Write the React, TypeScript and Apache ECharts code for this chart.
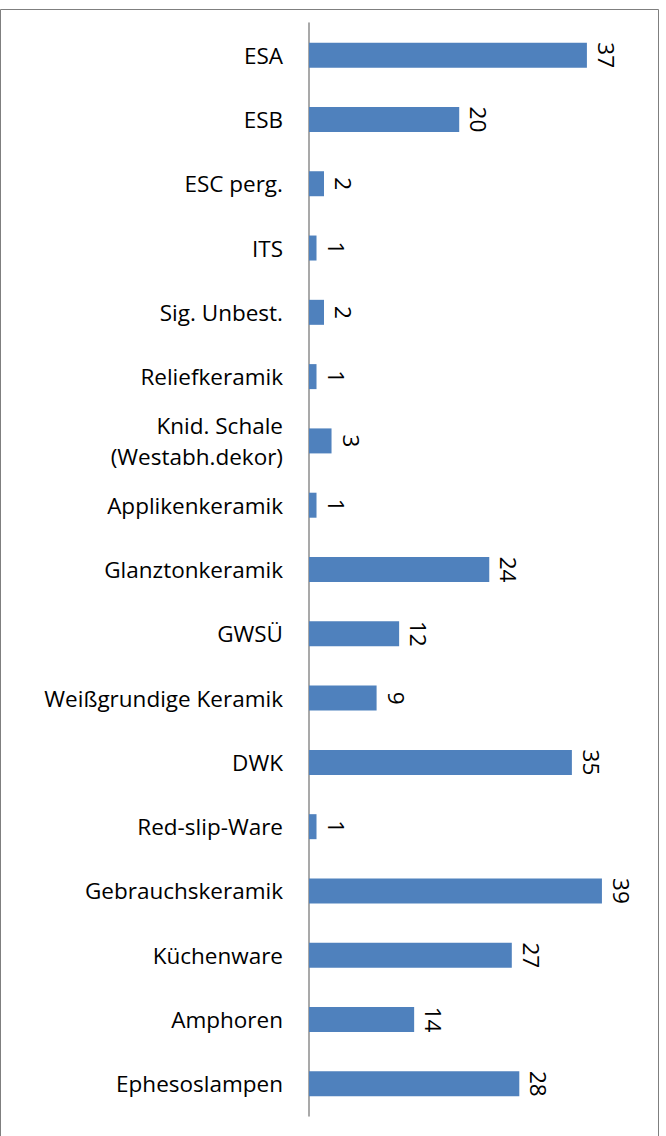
import React, { useEffect, useRef } from "react";
import * as echarts from "echarts";

const categories = [
  "ESA",
  "ESB",
  "ESC perg.",
  "ITS",
  "Sig. Unbest.",
  "Reliefkeramik",
  "Knid. Schale\n(Westabh.dekor)",
  "Applikenkeramik",
  "Glanztonkeramik",
  "GWSÜ",
  "Weißgrundige Keramik",
  "DWK",
  "Red-slip-Ware",
  "Gebrauchskeramik",
  "Küchenware",
  "Amphoren",
  "Ephesoslampen",
];
const values = [37, 20, 2, 1, 2, 1, 3, 1, 24, 12, 9, 35, 1, 39, 27, 14, 28];

const FONT = "Open Sans";

export default function App() {
  const ref = useRef<HTMLDivElement>(null);
  useEffect(() => {
    document.body.style.margin = "0";
    const chart = echarts.init(ref.current!, null, { renderer: "svg" });
    chart.setOption({
      animation: false,
      backgroundColor: "#fff",
      textStyle: { fontFamily: FONT },
      grid: { left: 309, top: 23, height: 1093, right: 19, containLabel: false },
      xAxis: {
        type: "value",
        min: 0,
        max: 45,
        show: false,
      },
      yAxis: {
        type: "category",
        data: categories,
        inverse: true,
        axisTick: { show: false },
        axisLine: { show: true, lineStyle: { color: "#8c8c8c", width: 1.5 } },
        axisLabel: {
          margin: 26,
          fontSize: 22.5,
          color: "#000",
          fontFamily: FONT,
          lineHeight: 31,
        },
      },
      series: [
        {
          type: "bar",
          data: values,
          barWidth: 25,
          itemStyle: { color: "#4F81BD" },
          label: {
            show: true,
            position: "right",
            distance: 8,
            rotate: -90,
            align: "center",
            verticalAlign: "bottom",
            fontSize: 22.5,
            color: "#000",
            fontFamily: FONT,
          },
        },
      ],
      graphic: [
        {
          type: "rect",
          shape: { x: 0.5, y: 9.5, width: 658, height: 1150 },
          style: { fill: "none", stroke: "#7f7f7f", lineWidth: 1 },
          silent: true,
        },
      ],
    });
    return () => chart.dispose();
  }, []);
  return <div ref={ref} style={{ width: 666, height: 1136 }} />;
}
